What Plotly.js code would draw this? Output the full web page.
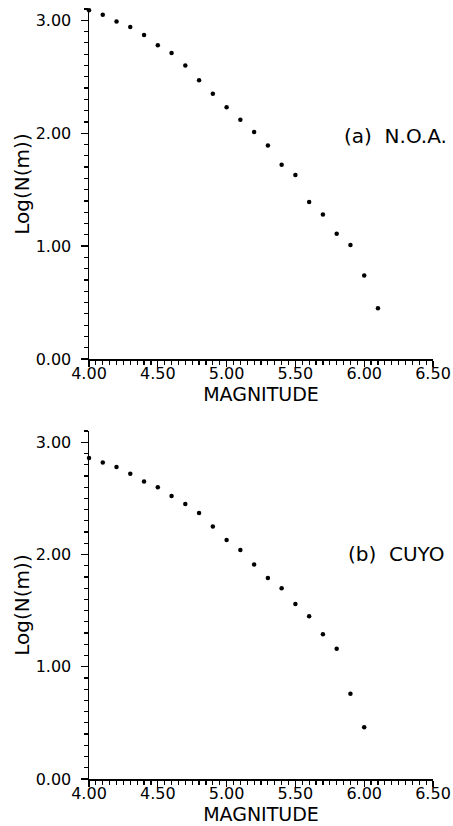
<!DOCTYPE html>
<html>
<head>
<meta charset="utf-8">
<script src="https://cdn.plot.ly/plotly-3.0.1.min.js"></script>
<style>html,body{margin:0;padding:0;background:#fff;}#chart{width:453px;height:826px;}</style>
</head>
<body>
<div id="chart"></div>
<script>
// Panel (a) N.O.A.
const magA = [4.0, 4.1, 4.2, 4.3, 4.4, 4.5, 4.6, 4.7, 4.8, 4.9, 5.0, 5.1, 5.2, 5.3, 5.4, 5.5, 5.6, 5.7, 5.8, 5.9, 6.0, 6.1];
const logNA = [3.09, 3.05, 2.99, 2.94, 2.87, 2.78, 2.71, 2.60, 2.47, 2.35, 2.23, 2.12, 2.01, 1.89, 1.72, 1.63, 1.39, 1.28, 1.11, 1.01, 0.74, 0.45];
// Panel (b) CUYO
const magB = [4.0, 4.1, 4.2, 4.3, 4.4, 4.5, 4.6, 4.7, 4.8, 4.9, 5.0, 5.1, 5.2, 5.3, 5.4, 5.5, 5.6, 5.7, 5.8, 5.9, 6.0];
const logNB = [2.86, 2.82, 2.78, 2.72, 2.65, 2.60, 2.52, 2.45, 2.37, 2.25, 2.13, 2.04, 1.91, 1.79, 1.70, 1.56, 1.45, 1.29, 1.16, 0.76, 0.46];
// Ticks and labels
const xTicks = [4.0, 4.5, 5.0, 5.5, 6.0, 6.5];
const yTicks = [0, 1, 2, 3];
const xTitle = "MAGNITUDE";
const yTitle = "Log(N(m))";
const labelA = "(a)  N.O.A.";
const labelB = "(b)  CUYO";

const FONT = "DejaVu Sans";
const marker = {color: "#000", size: 4.5, symbol: "circle"};

const traces = [
  {x: magA, y: logNA, type: "scatter", mode: "markers", marker: marker, xaxis: "x", yaxis: "y", hoverinfo: "skip", cliponaxis: false},
  {x: magB, y: logNB, type: "scatter", mode: "markers", marker: marker, xaxis: "x2", yaxis: "y2", hoverinfo: "skip", cliponaxis: false}
];

function xAxis(anchor) {
  return {
    domain: [89/453, 433/453], range: [4.0, 6.5], anchor: anchor,
    showgrid: false, zeroline: false, showline: true, linecolor: "#000", linewidth: 1.5,
    ticks: "outside", ticklen: 6, tickwidth: 1.3, tickcolor: "#000",
    tickvals: xTicks, tickformat: ".2f", ticklabelstandoff: -7,
    tickfont: {family: FONT, size: 16, color: "#000"},
    minor: {dtick: 0.05, ticks: "outside", ticklen: 4, tickwidth: 1.2, tickcolor: "#000", showgrid: false},
    title: {text: xTitle, font: {family: FONT, size: 19, color: "#000"}, standoff: 4}
  };
}
function yAxis(anchor, dom) {
  return {
    domain: dom, range: [0, 3.1], anchor: anchor,
    showgrid: false, zeroline: false, showline: true, linecolor: "#000", linewidth: 1.5,
    ticks: "outside", ticklen: 7, tickwidth: 1.3, tickcolor: "#000",
    tickvals: yTicks, tickformat: ".2f", ticklabelstandoff: 6,
    tickfont: {family: FONT, size: 16, color: "#000"},
    minor: {dtick: 0.1, ticks: "outside", ticklen: 4, tickwidth: 1.2, tickcolor: "#000", showgrid: false},
    title: {text: yTitle, font: {family: FONT, size: 20, color: "#000"}, standoff: 0}
  };
}

const layout = {
  width: 453, height: 826,
  margin: {l: 0, r: 0, t: 0, b: 0},
  paper_bgcolor: "#fff", plot_bgcolor: "#fff",
  showlegend: false,
  xaxis: xAxis("y"),
  yaxis: yAxis("x", [1 - 359/826, 1 - 9/826]),
  xaxis2: xAxis("y2"),
  yaxis2: yAxis("x2", [1 - 779/826, 1 - 431/826]),
  annotations: [
    {text: labelA, xref: "paper", yref: "paper", x: 342/453, y: 1 - 136/826, xanchor: "left", yanchor: "middle", showarrow: false, font: {family: FONT, size: 20, color: "#000"}},
    {text: labelB, xref: "paper", yref: "paper", x: 346/453, y: 1 - 554/826, xanchor: "left", yanchor: "middle", showarrow: false, font: {family: FONT, size: 20, color: "#000"}}
  ]
};

Plotly.newPlot("chart", traces, layout, {staticPlot: true, displayModeBar: false});
</script>
</body>
</html>
